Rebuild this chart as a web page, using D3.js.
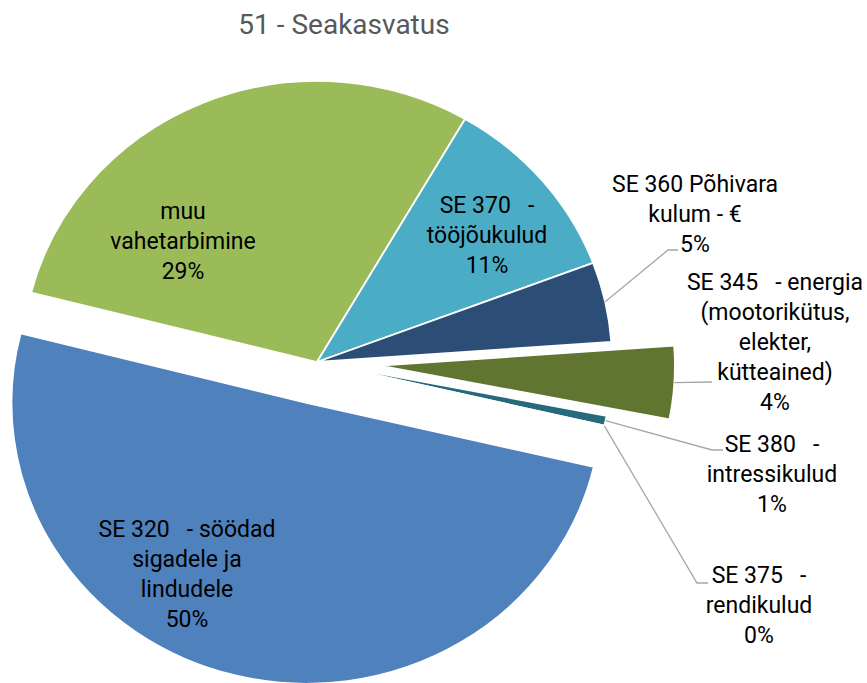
<!DOCTYPE html>
<html>
<head>
<meta charset="utf-8">
<script src="https://cdn.jsdelivr.net/npm/d3@7"></script>
<style>
  body { margin: 0; background: #fff; }
  text { font-family: Roboto, "Noto Sans", sans-serif; white-space: pre; }
</style>
</head>
<body>
<svg id="chart" width="867" height="683"></svg>
<script>
const chartTitle = "51 - Seakasvatus";

// categories in drawing order (clockwise)
const categories = [
  "SE 320   - söödad sigadele ja lindudele",
  "muu vahetarbimine",
  "SE 370   - tööjõukulud",
  "SE 360  Põhivara kulum - €",
  "SE 345   - energia (mootorikütus, elekter, kütteained)",
  "SE 380   - intressikulud",
  "SE 375   - rendikulud"
];
// share of total costs, %
const shares = [50.3, 29.4, 10.9, 4.6, 4.2, 0.57, 0.03];
// how the data labels wrap
const labelLines = [
  ["SE 320   - söödad", "sigadele ja", "lindudele"],
  ["muu", "vahetarbimine"],
  ["SE 370   -", "tööjõukulud"],
  ["SE 360 Põhivara", "kulum - €"],
  ["SE 345   - energia", "(mootorikütus,", "elekter,", "kütteained)"],
  ["SE 380   -", "intressikulud"],
  ["SE 375   -", "rendikulud"]
];

const colors = ["#4F81BD", "#9BBB59", "#4BACC6", "#2C4D75", "#5F7530", "#276A7C", "#B65708"];
const explode = [42, 0, 0, 0, 60, 0, 0];

// label boxes: centre x, first baseline, optional leader elbow + end
const labelLayout = [
  { x: 187, y: 537 },
  { x: 183, y: 219 },
  { x: 487, y: 213 },
  { x: 695, y: 192, leader: [[668, 250], [678, 250]] },
  { x: 775, y: 290, leader: [[712, 382]] },
  { x: 772, y: 452, leader: [[712, 450], [723, 450]] },
  { x: 759, y: 583, leader: [[697, 583], [708, 583]] }
];

const cx = 317, cy = 362, r = 281, sx = 1.05;
const lineH = 30;
const rad = deg => deg * Math.PI / 180;
const start = rad(103.2);

const svg = d3.select("#chart");

svg.append("text")
  .attr("x", 344).attr("y", 34)
  .attr("text-anchor", "middle")
  .attr("font-size", 28)
  .attr("fill", "#595959")
  .text(chartTitle);

const pie = d3.pie().sort(null).value(d => d)
  .startAngle(start).endAngle(start + 2 * Math.PI);
const arcs = pie(shares);
const total = d3.sum(shares);

const arc = d3.arc().innerRadius(0).outerRadius(r);
const rimArc = d3.arc().innerRadius(r).outerRadius(r);

const offset = (d, i) => {
  const mid = (d.startAngle + d.endAngle) / 2;
  return [explode[i] * Math.sin(mid), -explode[i] * Math.cos(mid)];
};

const slices = svg.append("g").selectAll("g.slice")
  .data(arcs)
  .join("g")
  .attr("class", "slice")
  .attr("transform", (d, i) => {
    const [dx, dy] = offset(d, i);
    return `translate(${cx + sx * dx},${cy + dy}) scale(${sx},1)`;
  });

slices.append("path")
  .attr("d", arc)
  .attr("fill", (d, i) => colors[i])
  .attr("stroke", "#fff")
  .attr("stroke-width", 1.8)
  .attr("vector-effect", "non-scaling-stroke");

// leader lines
const leaders = svg.append("g");
arcs.forEach((d, i) => {
  const lay = labelLayout[i];
  if (!lay.leader) return;
  const [dx, dy] = offset(d, i);
  const [px, py] = rimArc.centroid(d);
  const pts = [[cx + sx * (dx + px), cy + dy + py], ...lay.leader];
  leaders.append("path")
    .attr("d", d3.line()(pts))
    .attr("fill", "none")
    .attr("stroke", "#A6A6A6")
    .attr("stroke-width", 1.3);
});

// data labels
const labels = svg.append("g");
arcs.forEach((d, i) => {
  const lay = labelLayout[i];
  const pct = Math.round(d.data / total * 100) + "%";
  const lines = labelLines[i].concat([pct]);
  const t = labels.append("text")
    .attr("text-anchor", "middle")
    .attr("font-size", 23)
    .attr("fill", "#000");
  lines.forEach((ln, k) => {
    t.append("tspan").attr("x", lay.x).attr("y", lay.y + k * lineH).text(ln);
  });
});
</script>
</body>
</html>
